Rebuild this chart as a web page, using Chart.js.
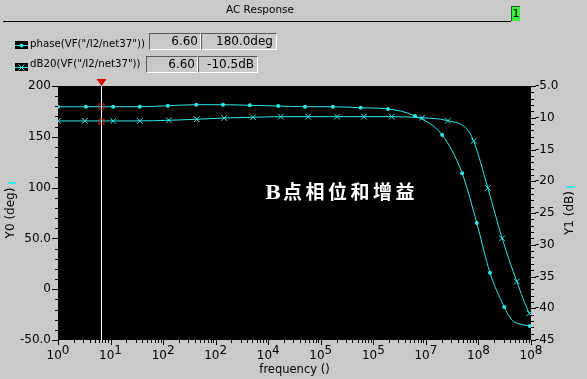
<!DOCTYPE html>
<html>
<head>
<meta charset="utf-8">
<script src="https://cdn.jsdelivr.net/npm/chart.js@4.4.0/dist/chart.umd.min.js"></script>
<style>
  body { margin: 0; background: #c9c9c9; font-family: 'DejaVu Sans'; }
  #wrap { position: relative; width: 587px; height: 379px; overflow: hidden; }
  #c { position: absolute; left: 0; top: 0; }
  .abs { position: absolute; white-space: nowrap; color: #000; }
  .box { position: absolute; box-sizing: border-box; height: 17px; border: 1px solid; border-color: #5a5a5a #fff #fff #5a5a5a;
         text-align: right; padding-right: 2px; font-size: 12px; line-height: 15px; }
</style>
</head>
<body>
<div id="wrap">
  <canvas id="c" width="587" height="379"></canvas>

  <div class="abs" style="left:0;top:3px;width:520px;text-align:center;font-size:10.5px;line-height:12px;">AC Response</div>
  <div class="abs" style="left:3px;top:21px;width:508px;height:1px;background:#000;"></div>
  <div class="abs" style="left:511px;top:6px;width:9px;height:15px;background:#3cf03c;border-left:1px solid #1a5a1a;border-top:1px solid #1a5a1a;box-sizing:border-box;font-size:11px;line-height:14px;text-align:center;">1</div>

  <div class="abs" style="left:30px;top:38px;font-size:10.2px;line-height:12px;">phase(VF("/I2/net37"))</div>
  <div class="box" style="left:149px;top:33px;width:52px;">6.60</div>
  <div class="box" style="left:201px;top:33px;width:76px;padding-right:3px;">180.0deg</div>

  <div class="abs" style="left:30px;top:58px;font-size:10.2px;line-height:12px;">dB20(VF("/I2/net37"))</div>
  <div class="box" style="left:146px;top:56px;width:52px;">6.60</div>
  <div class="box" style="left:198px;top:56px;width:60px;padding-right:3px;">-10.5dB</div>

  <div class="abs" style="left:265px;top:181px;color:#fff;font-weight:bold;font-size:19px;line-height:19px;letter-spacing:3.5px;font-family:'Noto Sans CJK SC';"><span style="font-family:'DejaVu Serif';letter-spacing:2px;">B</span>点相位和增益</div>
</div>

<script>
// frequency (Hz) and phase (deg)
const phaseFreq = [1, 3.4, 11.2, 36, 123, 427, 1380, 4470, 15500, 50100, 1.7e5, 5.75e5, 1.9e6, 6.2e6,
                   2.04e7, 4.9e7, 9.3e7, 1.66e8, 3.1e8, 4.3e8, 6.2e8, 9.5e8, 1e9];
const phaseDeg  = [179.5, 179.6, 179.6, 179.6, 180.6, 181.6, 181.6, 181.0, 180.3, 179.6, 179.6, 178.6, 177.4, 170.5,
                   151.8, 114.1, 65.2, 16.1, -17.5, -30.3, -34.3, -36.2, -36.3];
const phaseNoMark = [19, 20, 22];

// frequency (Hz) and gain (dB)
const gainFreq = [1, 3.24, 11.2, 36, 129, 437, 1450, 5130, 17400, 57500, 2.04e5, 6.61e5, 2.24e6, 8.5e6,
                  2.63e7, 5.9e7, 8.1e7, 1.51e8, 2.82e8, 5.37e8, 9.33e8, 1e9];
const gainDb   = [-10.5, -10.5, -10.5, -10.5, -10.4, -10.24, -10.04, -9.93, -9.83, -9.83, -9.83, -9.83, -9.83, -9.99,
                  -10.46, -11.7, -13.66, -21.06, -28.98, -35.79, -40.8, -41.1];
const gainNoMark = [15, 21];

// tick labels
const xTickDecades = [1, 10, 100, 1e3, 1e4, 1e5, 1e6, 1e7, 1e8, 1e9];
const xTickExp = ['0', '1', '2', '2', '4', '5', '5', '7', '8', '8'];
const y0Ticks = [-50, 0, 50, 100, 150, 200];
const y0Labels = ['-50.0', '0', '50.0', '100', '150', '200'];
const y1Ticks = [-45, -40, -35, -30, -25, -20, -15, -10, -5];
const y1Labels = ['-45', '-40', '-35', '-30', '-25', '-20', '-15', '-10', '-5.0'];

// cursor
const cursorFreq = 6.6;
const cursorPhase = 180.0;
const cursorGain = -10.5;

const cyan = '#2ee6e6';

Chart.defaults.font.family = "'DejaVu Sans'";
Chart.defaults.font.size = 12;
Chart.defaults.color = '#000';

function seg(ctx, x1, y1, x2, y2) {
  ctx.beginPath(); ctx.moveTo(x1, y1); ctx.lineTo(x2, y2); ctx.stroke();
}

const decor = {
  id: 'decor',
  beforeDraw(chart) {
    const ctx = chart.ctx, a = chart.chartArea;
    ctx.save();
    ctx.fillStyle = '#000';
    ctx.fillRect(a.left, a.top, a.right - a.left, a.bottom - a.top);
    ctx.restore();
  },
  afterDraw(chart) {
    const ctx = chart.ctx, a = chart.chartArea;
    const xs = chart.scales.x, y0 = chart.scales.y0, y1 = chart.scales.y1;
    ctx.save();
    ctx.strokeStyle = '#000';
    ctx.lineWidth = 1;

    // bottom ticks, major + minor
    xTickDecades.forEach((d, i) => {
      const p = Math.round(xs.getPixelForValue(d)) + 0.5;
      seg(ctx, p, a.bottom, p, a.bottom + 5);
      if (i < xTickDecades.length - 1) {
        for (let m = 2; m <= 9; m++) {
          const q = Math.round(xs.getPixelForValue(m * d)) + 0.5;
          seg(ctx, q, a.bottom, q, a.bottom + 3);
        }
      }
    });
    // left ticks
    for (let v = -50; v <= 200; v += 10) {
      const p = Math.round(y0.getPixelForValue(v)) + 0.5;
      const len = v % 50 === 0 ? 6 : 3;
      seg(ctx, a.left - len, p, a.left, p);
    }
    // right ticks
    for (let v = -45; v <= -5; v += 1) {
      const p = Math.round(y1.getPixelForValue(v)) + 0.5;
      const len = v % 5 === 0 ? 5 : 3;
      seg(ctx, a.right, p, a.right + len, p);
    }

    // x tick labels 10^n
    ctx.fillStyle = '#000';
    ctx.font = "12px 'DejaVu Sans'";
    ctx.textBaseline = 'alphabetic';
    ctx.textAlign = 'left';
    xTickDecades.forEach((d, i) => {
      const p = xs.getPixelForValue(d);
      const w1 = ctx.measureText('10').width, w2 = ctx.measureText(xTickExp[i]).width;
      const s = p - (w1 + w2) / 2;
      ctx.fillText('10', s, 359);
      ctx.fillText(xTickExp[i], s + w1, 354);
    });

    // axis titles
    ctx.textAlign = 'center';
    ctx.textBaseline = 'middle';
    ctx.font = "11.5px 'DejaVu Sans'";
    ctx.fillText('frequency ()', (a.left + a.right) / 2, 370);
    ctx.font = "12px 'DejaVu Sans'";
    const mid = (a.top + a.bottom) / 2;
    ctx.save(); ctx.translate(11, mid); ctx.rotate(-Math.PI / 2); ctx.fillText('Y0 (deg)', 0, 0); ctx.restore();
    ctx.save(); ctx.translate(570, mid); ctx.rotate(-Math.PI / 2); ctx.fillText('Y1 (dB)', 0, 0); ctx.restore();
    ctx.strokeStyle = cyan; ctx.lineWidth = 2;
    seg(ctx, 8, 183, 16, 183);
    seg(ctx, 566, 187, 575, 187);

    // legend icons
    ctx.fillStyle = '#000';
    ctx.fillRect(15, 41, 13, 8);
    ctx.fillRect(15, 63, 13, 8);
    ctx.strokeStyle = cyan; ctx.lineWidth = 1;
    seg(ctx, 15, 45.5, 28, 45.5);
    seg(ctx, 15, 67.5, 28, 67.5);
    ctx.fillStyle = cyan;
    ctx.beginPath(); ctx.arc(21.5, 45.5, 2, 0, Math.PI * 2); ctx.fill();
    seg(ctx, 18.5, 64.5, 24.5, 70.5);
    seg(ctx, 24.5, 64.5, 18.5, 70.5);

    // cursor
    const cx = Math.round(xs.getPixelForValue(cursorFreq)) + 0.5;
    ctx.strokeStyle = '#fff'; ctx.lineWidth = 1;
    seg(ctx, cx, a.top, cx, a.bottom);
    ctx.fillStyle = '#e00000';
    ctx.beginPath();
    ctx.moveTo(cx - 5, a.top - 7); ctx.lineTo(cx + 5, a.top - 7); ctx.lineTo(cx, a.top); ctx.closePath();
    ctx.fill();
    ctx.strokeStyle = '#c82828';
    [y0.getPixelForValue(cursorPhase), y1.getPixelForValue(cursorGain)].forEach(py => {
      ctx.strokeRect(cx - 2.5, Math.round(py) - 2, 5, 5);
    });
    ctx.restore();
  }
};

new Chart(document.getElementById('c'), {
  type: 'line',
  data: {
    datasets: [
      {
        label: 'phase(VF("/I2/net37"))',
        yAxisID: 'y0',
        data: phaseFreq.map((f, i) => ({ x: f, y: phaseDeg[i] })),
        borderColor: cyan,
        backgroundColor: cyan,
        borderWidth: 1,
        cubicInterpolationMode: 'monotone',
        pointStyle: 'circle',
        pointRadius: ctx => phaseNoMark.includes(ctx.dataIndex) ? 0 : 2,
        pointBorderWidth: 0
      },
      {
        label: 'dB20(VF("/I2/net37"))',
        yAxisID: 'y1',
        data: gainFreq.map((f, i) => ({ x: f, y: gainDb[i] })),
        borderColor: cyan,
        backgroundColor: cyan,
        borderWidth: 1,
        cubicInterpolationMode: 'monotone',
        pointStyle: 'crossRot',
        pointRadius: ctx => gainNoMark.includes(ctx.dataIndex) ? 0 : 4,
        pointBorderWidth: 1
      }
    ]
  },
  options: {
    responsive: false,
    animation: false,
    events: [],
    layout: { padding: { top: 86, left: 0, right: 0, bottom: 0 } },
    plugins: { legend: { display: false }, tooltip: { enabled: false } },
    scales: {
      x: {
        type: 'logarithmic',
        position: 'bottom',
        min: 1,
        max: 1e9,
        grid: { display: false, drawTicks: false },
        border: { display: false },
        ticks: { display: false },
        afterFit(s) { s.height = 39; }
      },
      y0: {
        type: 'linear',
        position: 'left',
        min: -50,
        max: 200,
        grid: { display: false, drawTicks: false },
        border: { display: false },
        afterBuildTicks(s) { s.ticks = y0Ticks.map(v => ({ value: v })); },
        ticks: { autoSkip: false, padding: 7, callback: (v, i) => y0Labels[i] },
        afterFit(s) { s.width = 58; }
      },
      y1: {
        type: 'linear',
        position: 'right',
        min: -45,
        max: -5,
        grid: { display: false, drawTicks: false },
        border: { display: false },
        afterBuildTicks(s) { s.ticks = y1Ticks.map(v => ({ value: v })); },
        ticks: { autoSkip: false, padding: 4, callback: (v, i) => y1Labels[i] },
        afterFit(s) { s.width = 56; }
      }
    }
  },
  plugins: [decor]
});
</script>
</body>
</html>
